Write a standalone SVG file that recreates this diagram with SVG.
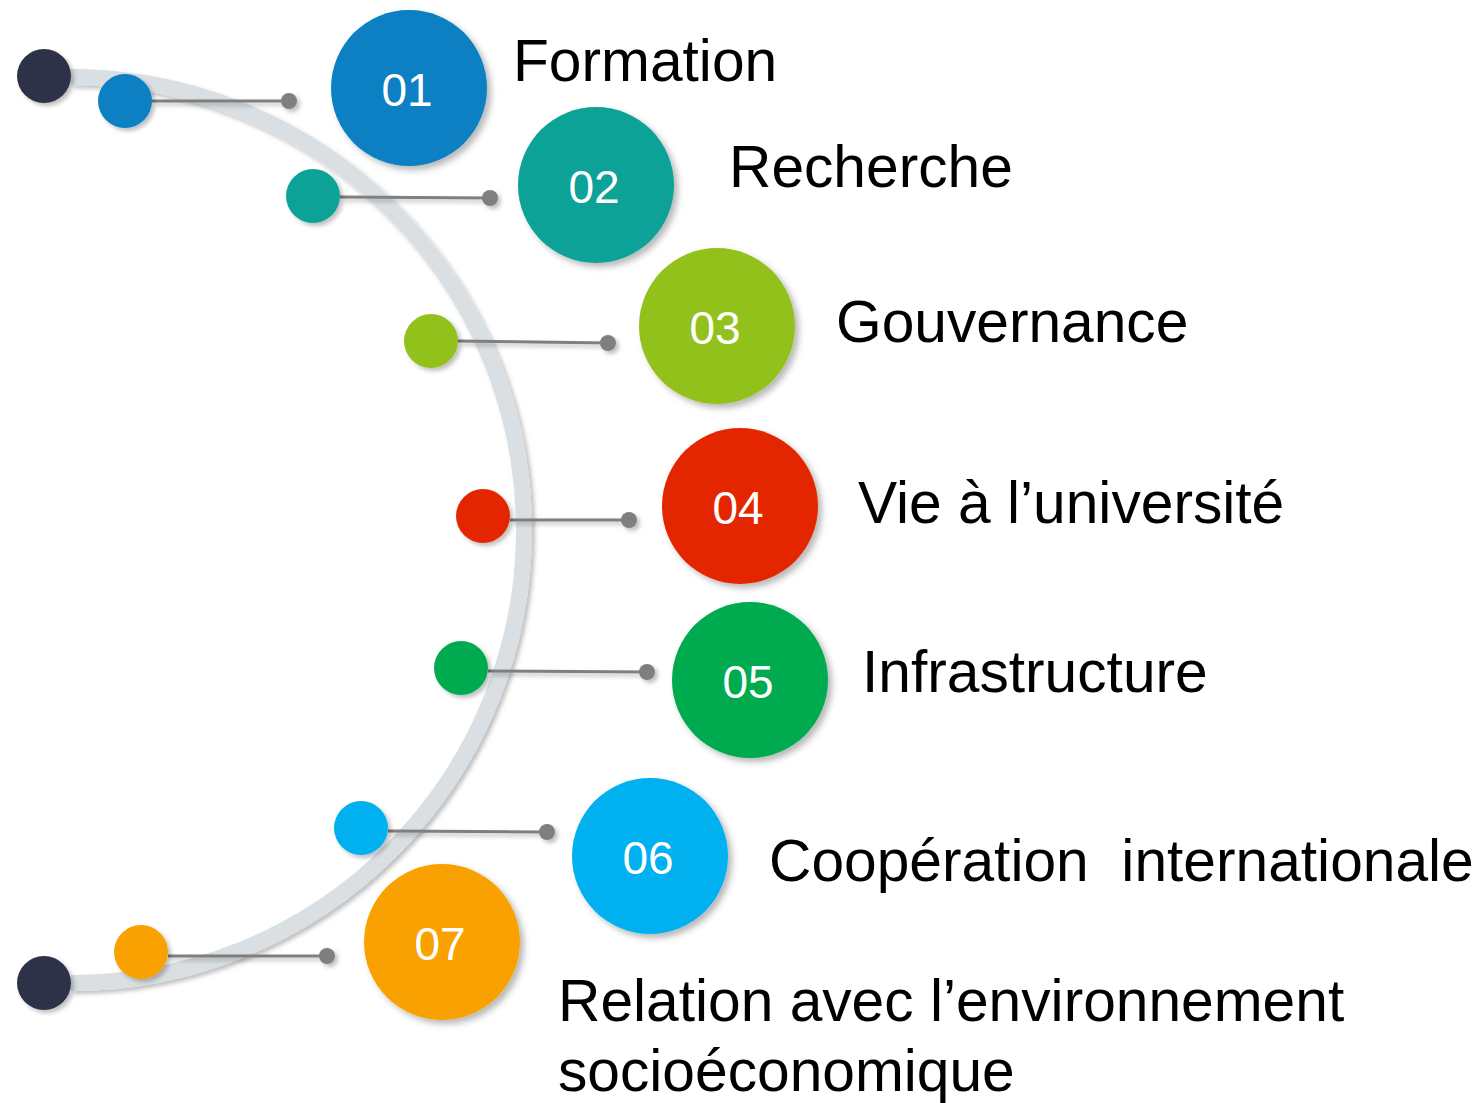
<svg xmlns="http://www.w3.org/2000/svg" width="1479" height="1103" viewBox="0 0 1479 1103">
<defs>
<filter id="sh" x="-30%" y="-30%" width="160%" height="160%">
<feDropShadow dx="4" dy="4" stdDeviation="3" flood-color="#000" flood-opacity="0.28"/>
</filter>
<filter id="shs" x="-30%" y="-30%" width="160%" height="160%">
<feDropShadow dx="3" dy="3" stdDeviation="2" flood-color="#000" flood-opacity="0.25"/>
</filter>
</defs>
<style>
.arc{fill:none;stroke:#d9dfe2;stroke-width:16}
.ln{stroke:#7f7f7f;stroke-width:3;fill:none}
.end{fill:#7f7f7f}
.num{font-family:"Liberation Sans",Arial,sans-serif;font-size:46px;fill:#fff;text-anchor:middle}
.lbl{font-family:"Liberation Sans",Arial,sans-serif;font-size:58.7px;fill:#000}
.dark{fill:#2e3048}
</style>
<g id="arc" filter="url(#shs)">
<path class="arc" d="M 71 77 A 453 453 0 0 1 71 983"/>
</g>
<g id="connectors" filter="url(#shs)">
<line class="ln" x1="152" y1="101" x2="289" y2="101"/><circle class="end" cx="289" cy="101" r="8"/>
<line class="ln" x1="340" y1="197" x2="490" y2="198"/><circle class="end" cx="490" cy="198" r="8"/>
<line class="ln" x1="458" y1="341" x2="608" y2="343"/><circle class="end" cx="608" cy="343" r="8"/>
<line class="ln" x1="510" y1="520" x2="629" y2="520"/><circle class="end" cx="629" cy="520" r="8"/>
<line class="ln" x1="488" y1="671" x2="647" y2="672"/><circle class="end" cx="647" cy="672" r="8"/>
<line class="ln" x1="388" y1="831" x2="547" y2="832"/><circle class="end" cx="547" cy="832" r="8"/>
<line class="ln" x1="168" y1="956" x2="327" y2="956"/><circle class="end" cx="327" cy="956" r="8"/>
</g>
<g id="end-top" filter="url(#shs)"><circle class="dark" cx="44" cy="76" r="27"/></g>
<g id="end-bottom" filter="url(#shs)"><circle class="dark" cx="44" cy="983" r="27"/></g>
<g id="node-01">
<circle cx="125" cy="101" r="27" fill="#0880c4" filter="url(#shs)"/>
<circle cx="409" cy="88" r="78" fill="#0880c4" filter="url(#sh)"/>
<text class="num" x="407" y="106">01</text>
<text class="lbl" x="513" y="81">Formation</text>
</g>
<g id="node-02">
<circle cx="313" cy="196" r="27" fill="#0aa297" filter="url(#shs)"/>
<circle cx="596" cy="185" r="78" fill="#0aa297" filter="url(#sh)"/>
<text class="num" x="594" y="203">02</text>
<text class="lbl" x="729" y="187">Recherche</text>
</g>
<g id="node-03">
<circle cx="431" cy="341" r="27" fill="#93c11f" filter="url(#shs)"/>
<circle cx="717" cy="326" r="78" fill="#93c11f" filter="url(#sh)"/>
<text class="num" x="715" y="344">03</text>
<text class="lbl" x="836" y="342">Gouvernance</text>
</g>
<g id="node-04">
<circle cx="483" cy="516" r="27" fill="#e42805" filter="url(#shs)"/>
<circle cx="740" cy="506" r="78" fill="#e42805" filter="url(#sh)"/>
<text class="num" x="738" y="524">04</text>
<text class="lbl" x="858" y="523">Vie à l’université</text>
</g>
<g id="node-05">
<circle cx="461" cy="668" r="27" fill="#00aa4f" filter="url(#shs)"/>
<circle cx="750" cy="680" r="78" fill="#00aa4f" filter="url(#sh)"/>
<text class="num" x="748" y="698">05</text>
<text class="lbl" x="862" y="692">Infrastructure</text>
</g>
<g id="node-06">
<circle cx="361" cy="828" r="27" fill="#04b0ef" filter="url(#shs)"/>
<circle cx="650" cy="856" r="78" fill="#04b0ef" filter="url(#sh)"/>
<text class="num" x="648" y="874">06</text>
<text class="lbl" x="769" y="881" xml:space="preserve">Coopération  internationale</text>
</g>
<g id="node-07">
<circle cx="141" cy="952" r="27" fill="#f9a100" filter="url(#shs)"/>
<circle cx="442" cy="942" r="78" fill="#f9a100" filter="url(#sh)"/>
<text class="num" x="440" y="960">07</text>
<text class="lbl" x="558" y="1021">Relation avec l’environnement</text>
<text class="lbl" x="558" y="1091">socioéconomique</text>
</g>
</svg>
